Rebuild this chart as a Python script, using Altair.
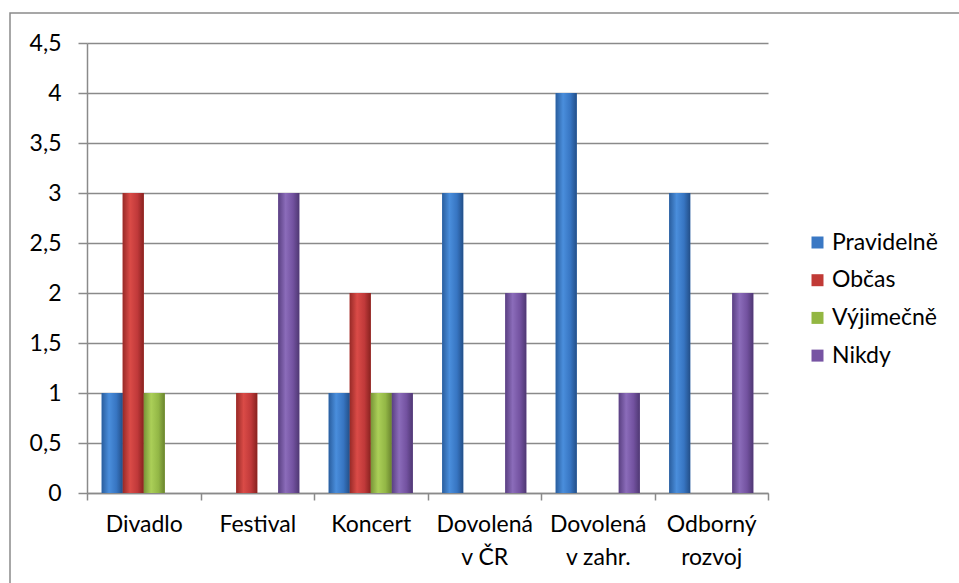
import altair as alt
import pandas as pd

categories = ["Divadlo", "Festival", "Koncert", "Dovolená v ČR", "Dovolená v zahr.", "Odborný rozvoj"]
series = ["Pravidelně", "Občas", "Výjimečně", "Nikdy"]
pravidelne = [1, 0, 1, 3, 4, 3]
obcas = [3, 1, 2, 0, 0, 0]
vyjimecne = [1, 0, 1, 0, 0, 0]
nikdy = [0, 3, 1, 2, 1, 2]
y_ticks = [0, 0.5, 1, 1.5, 2, 2.5, 3, 3.5, 4, 4.5]

colors = ["#3A78C4", "#C13A36", "#93B742", "#7754A3"]
gradients = [
    ["#2A5E9E", "#4A8EDC", "#3775C2", "#234F88"],
    ["#982A27", "#DA4B47", "#C0393A", "#88221F"],
    ["#789538", "#ABCF58", "#93B746", "#6A842E"],
    ["#5A4082", "#8B6CBA", "#7352A0", "#4F3873"],
]

rows = []
for s, vals in zip(series, [pravidelne, obcas, vyjimecne, nikdy]):
    for c, v in zip(categories, vals):
        rows.append({"cat": c, "series": s, "value": v})
df = pd.DataFrame(rows)

FONT = "Lato"
FS = 23
GRAY = "#8a8a8a"

label_expr = ("indexof(datum.label, ' ') > 0 ? "
              "[substring(datum.label, 0, indexof(datum.label, ' ')), "
              "substring(datum.label, indexof(datum.label, ' ') + 1)] : datum.label")

X = alt.X("cat:N", sort=categories,
          scale=alt.Scale(domain=categories, paddingInner=0, paddingOuter=0),
          axis=alt.Axis(title=None, labelAngle=0, tickBand="extent", grid=False,
                        labelExpr=label_expr, labelLineHeight=33,
                        tickSize=7, labelPadding=13))
XO = alt.XOffset("series:N", sort=series,
                 scale=alt.Scale(domain=series, paddingInner=0, paddingOuter=0.7))
Y = alt.Y("value:Q", scale=alt.Scale(domain=[0, 4.5], nice=False, zero=True),
          axis=alt.Axis(title=None, values=y_ticks, grid=True, tickSize=9,
                        labelPadding=17,
                        labelExpr="replace(toString(datum.value), '.', ',')"))

solid = alt.Chart(df).mark_bar().encode(
    x=X, xOffset=XO, y=Y,
    color=alt.Color("series:N", sort=series,
                    scale=alt.Scale(domain=series, range=colors),
                    legend=alt.Legend(title=None, orient="none", legendX=719, legendY=188,
                                      symbolType="square", symbolSize=144,
                                      symbolStrokeWidth=0, labelFont=FONT,
                                      labelFontSize=FS, labelColor="black",
                                      rowPadding=13.7, labelOffset=3)),
)

layers = [solid]
for s, g in zip(series, gradients):
    grad = alt.Gradient(
        gradient="linear", x1=0, x2=1, y1=0, y2=0,
        stops=[alt.GradientStop(offset=0, color=g[0]),
               alt.GradientStop(offset=0.35, color=g[1]),
               alt.GradientStop(offset=0.7, color=g[2]),
               alt.GradientStop(offset=1, color=g[3])])
    layers.append(
        alt.Chart(df).transform_filter(alt.datum.series == s)
        .mark_bar(color=grad).encode(x=X, xOffset=XO, y=Y)
    )

border = alt.Chart(pd.DataFrame({"a": [0]})).mark_rect(
    fillOpacity=0, stroke=GRAY, strokeWidth=1.5, clip=False
).encode(x=alt.value(-77), x2=alt.value(900), y=alt.value(-30), y2=alt.value(600))
layers.append(border)

chart = alt.layer(*layers).properties(
    width=681, height=450,
    autosize=alt.AutoSizeParams(type="none"),
    padding={"left": 87, "top": 43, "right": 191, "bottom": 90},
).configure_view(stroke=None).configure_axis(
    domainColor=GRAY, tickColor=GRAY, gridColor=GRAY, gridWidth=1.5,
    domainWidth=1.5, tickWidth=1.5, gridOpacity=1,
    labelFont=FONT, labelFontSize=FS, labelColor="black",
)

chart.save("out.html", embed_options={"renderer": "svg", "actions": False})
